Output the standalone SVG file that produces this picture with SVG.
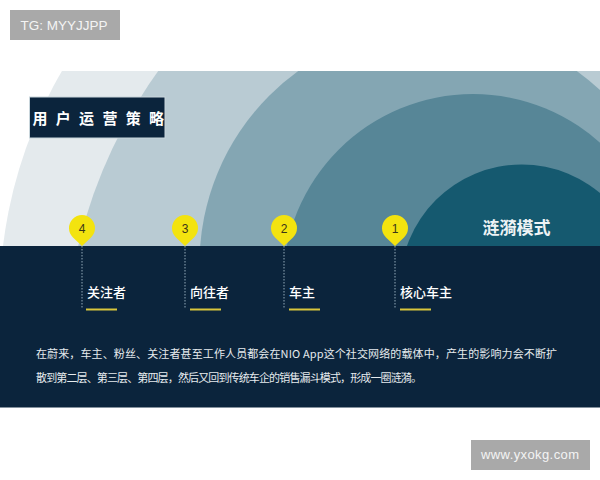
<svg xmlns="http://www.w3.org/2000/svg" width="600" height="480" viewBox="0 0 600 480">
  <defs>
    <clipPath id="band">
      <rect x="0" y="71" width="600" height="175"/>
    </clipPath>
    <style>
      .cjk { font-family: "Noto Sans CJK SC", "Noto Sans", sans-serif; }
      .lat { font-family: "Liberation Sans", Arial, sans-serif; }
      .pin { fill: #f3e30f; }
      .num { font-family: "Liberation Sans", Arial, sans-serif; font-size: 12px; fill: #3a3418; text-anchor: middle; }
      .stem { stroke: #93a9b8; stroke-width: 1; stroke-dasharray: 1.5 1.5; fill: none; }
      .lbl { font-family: "Noto Sans CJK SC", "Noto Sans", sans-serif; font-size: 13px; font-weight: 500; fill: #ffffff; }
      .ul { stroke: #d9c63c; stroke-width: 2; }
    </style>
  </defs>
  <rect width="600" height="480" fill="#ffffff"/>

  <g id="watermark-tg">
    <rect x="10" y="10" width="110" height="30" fill="#a9a9a9"/>
    <text x="20.5" y="30" class="lat" font-size="13.5" fill="#f4f4f4">TG: MYYJJPP</text>
  </g>

  <g id="ripples" clip-path="url(#band)">
    <circle cx="453.4" cy="300.4" r="453.7" fill="#e4eaed"/>
    <circle cx="560.7" cy="360.9" r="496" fill="#b9cbd3"/>
    <circle cx="437.5" cy="264" r="238" fill="#84a6b3"/>
    <circle cx="473" cy="284" r="190" fill="#578697"/>
    <circle cx="521.7" cy="286" r="121.5" fill="#15596f"/>
  </g>

  <rect id="dark-band" x="0" y="246" width="600" height="161.5" fill="#0b243c"/>

  <g id="title">
    <rect x="29.5" y="97" width="135.5" height="41" fill="#0b243c" stroke="#c9d6dc" stroke-width="1"/>
    <text x="32.5" y="124" class="cjk" font-size="15" font-weight="bold" fill="#ffffff" letter-spacing="8.3">用户运营策略</text>
  </g>

  <g id="ripple-label">
    <text x="482.5" y="234" class="cjk" font-size="17" font-weight="bold" fill="#eef3f5">涟漪模式</text>
  </g>

  <g id="connectors">
    <line class="stem" x1="82" y1="246" x2="82" y2="308"/>
    <line class="stem" x1="185" y1="246" x2="185" y2="308"/>
    <line class="stem" x1="284" y1="246" x2="284" y2="308"/>
    <line class="stem" x1="395" y1="246" x2="395" y2="308"/>
  </g>

  <g id="node-4">
    <path class="pin" d="M82 246 L73 237.4 A13 13 0 1 1 91 237.4 Z"/>
    <text x="82" y="232.5" class="num">4</text>
    <text x="87" y="297" class="lbl">关注者</text>
    <line class="ul" x1="86" y1="309.5" x2="117" y2="309.5"/>
  </g>
  <g id="node-3">
    <path class="pin" d="M185 246 L176 237.4 A13 13 0 1 1 194 237.4 Z"/>
    <text x="185" y="232.5" class="num">3</text>
    <text x="190" y="297" class="lbl">向往者</text>
    <line class="ul" x1="190" y1="309.5" x2="221" y2="309.5"/>
  </g>
  <g id="node-2">
    <path class="pin" d="M284 246 L275 237.4 A13 13 0 1 1 293 237.4 Z"/>
    <text x="284" y="232.5" class="num">2</text>
    <text x="289" y="297" class="lbl">车主</text>
    <line class="ul" x1="289" y1="309.5" x2="320" y2="309.5"/>
  </g>
  <g id="node-1">
    <path class="pin" d="M395 246 L386 237.4 A13 13 0 1 1 404 237.4 Z"/>
    <text x="395" y="232.5" class="num">1</text>
    <text x="400" y="297" class="lbl">核心车主</text>
    <line class="ul" x1="400" y1="309.5" x2="431" y2="309.5"/>
  </g>

  <g id="description" class="cjk" font-size="11" fill="#e6ebee">
    <text x="36" y="358" textLength="521" lengthAdjust="spacing">在蔚来，车主、粉丝、关注者甚至工作人员都会在NIO App这个社交网络的载体中，产生的影响力会不断扩</text>
    <text x="36" y="381.5" textLength="386" lengthAdjust="spacing">散到第二层、第三层、第四层，然后又回到传统车企的销售漏斗模式，形成一圈涟漪。</text>
  </g>

  <g id="watermark-url">
    <rect x="471" y="440" width="119" height="30" fill="#a9a9a9"/>
    <text x="481" y="459" class="lat" font-size="13" fill="#f4f4f4" textLength="98" lengthAdjust="spacing">www.yxokg.com</text>
  </g>
</svg>
